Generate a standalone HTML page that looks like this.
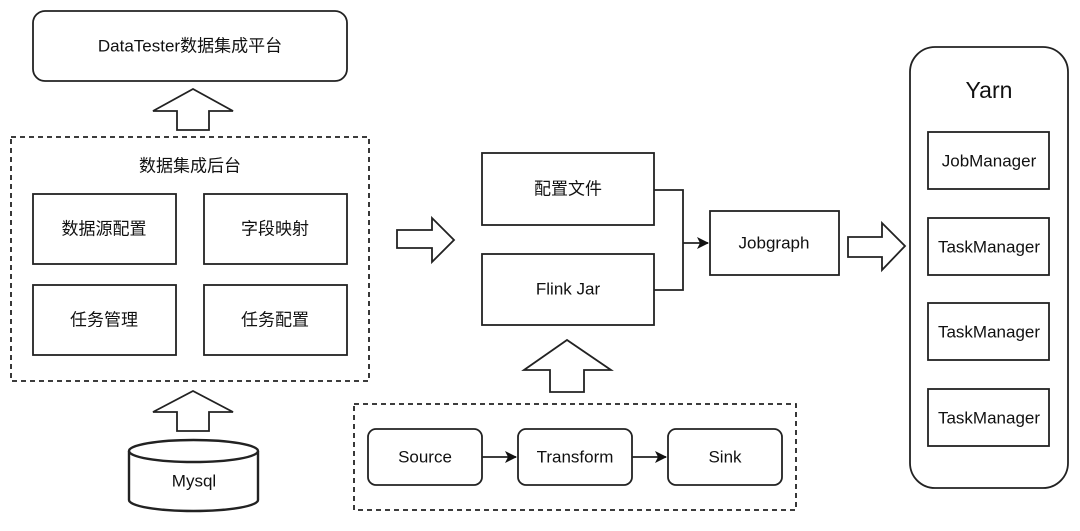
<!DOCTYPE html>
<html><head><meta charset="utf-8"><style>
body{margin:0;background:#fff}
svg{display:block}
text{font-family:"Liberation Sans","Noto Sans CJK SC",sans-serif;fill:#111;text-anchor:middle;dominant-baseline:central}
</style></head><body>
<svg width="1080" height="531" viewBox="0 0 1080 531" xmlns="http://www.w3.org/2000/svg">
<defs><marker id="a" markerWidth="12" markerHeight="12" refX="11" refY="6" orient="auto" markerUnits="userSpaceOnUse"><path d="M0,0 L12,6 L0,12 L3,6 z" fill="#111"/></marker></defs>
<g fill="none" stroke="#222" stroke-width="1.8">
<rect x="33" y="11" width="314" height="70" rx="12" fill="#fff"/>
<path d="M177,130 V111 H153 L193,89 L233,111 H209 V130 Z"/>
<rect x="11" y="137" width="358" height="244" stroke-dasharray="5,4"/>
<rect x="33" y="194" width="143" height="70"/>
<rect x="204" y="194" width="143" height="70"/>
<rect x="33" y="285" width="143" height="70"/>
<rect x="204" y="285" width="143" height="70"/>
<path d="M177,431 V412 H153 L193,391 L233,412 H209 V431 Z"/>
<path d="M129,451 V500 A64.5,11 0 0 0 258,500 V451" stroke-width="2.4"/>
<ellipse cx="193.5" cy="451" rx="64.5" ry="11" stroke-width="2.4"/>
<path d="M397,230 H432 V218 L454,240 L432,262 V248 H397 Z"/>
<rect x="482" y="153" width="172" height="72"/>
<rect x="482" y="254" width="172" height="71"/>
<path d="M654,190 H683 V290 H654"/>
<path d="M683,243 H708" marker-end="url(#a)"/>
<rect x="710" y="211" width="129" height="64"/>
<path d="M550,392 V370 H524 L567,340 L611,370 H584 V392 Z"/>
<rect x="354" y="404" width="442" height="106" stroke-dasharray="5,4"/>
<rect x="368" y="429" width="114" height="56" rx="8"/>
<rect x="518" y="429" width="114" height="56" rx="8"/>
<rect x="668" y="429" width="114" height="56" rx="8"/>
<path d="M482,457 H516" marker-end="url(#a)"/>
<path d="M632,457 H666" marker-end="url(#a)"/>
<path d="M848,237 H882 V223 L905,246 L882,270 V257 H848 Z"/>
<rect x="910" y="47" width="158" height="441" rx="25"/>
<rect x="928" y="132" width="121" height="57"/>
<rect x="928" y="218" width="121" height="57"/>
<rect x="928" y="303" width="121" height="57"/>
<rect x="928" y="389" width="121" height="57"/>
</g>
<g font-size="17">
<text x="190" y="46">DataTester数据集成平台</text>
<text x="190" y="166">数据集成后台</text>
<text x="104" y="229">数据源配置</text>
<text x="275" y="229">字段映射</text>
<text x="104" y="320">任务管理</text>
<text x="275" y="320">任务配置</text>
<text x="194" y="481">Mysql</text>
<text x="568" y="189">配置文件</text>
<text x="568" y="289">Flink Jar</text>
<text x="774" y="243">Jobgraph</text>
<text x="425" y="457">Source</text>
<text x="575" y="457">Transform</text>
<text x="725" y="457">Sink</text>
<text x="989" y="161">JobManager</text>
<text x="989" y="247">TaskManager</text>
<text x="989" y="332">TaskManager</text>
<text x="989" y="418">TaskManager</text>
</g>
<text x="989" y="90" font-size="23">Yarn</text>
</svg>
</body></html>
